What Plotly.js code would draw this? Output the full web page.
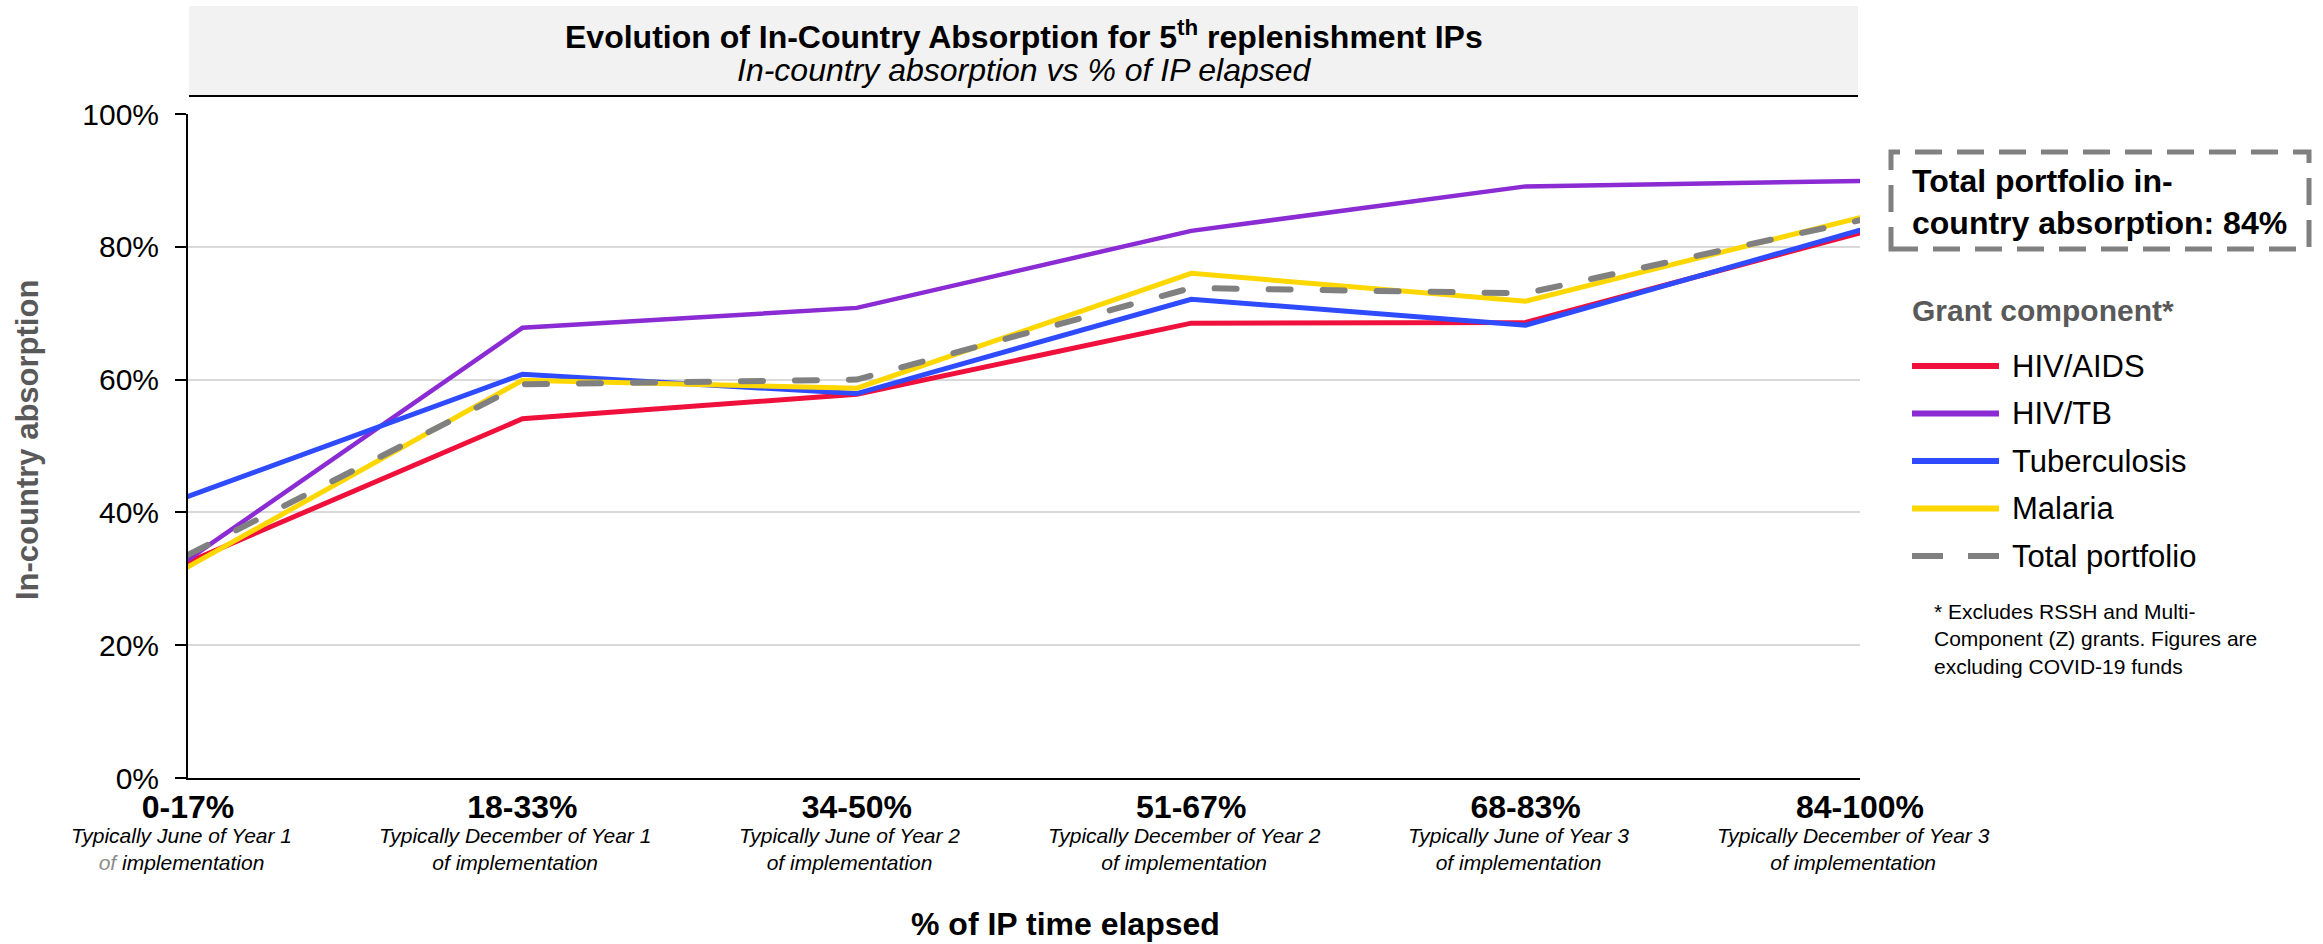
<!DOCTYPE html>
<html>
<head>
<meta charset="utf-8">
<script src="https://cdn.plot.ly/plotly-3.0.1.min.js"></script>
<style>
  html, body { margin: 0; padding: 0; background: #ffffff; }
  #chart { width: 2323px; height: 944px; }
  .scatterlayer .js-line { stroke-linecap: round; }
</style>
</head>
<body>
<div id="chart"></div>
<script>
// ---- Data ----
const categories = ['0-17%', '18-33%', '34-50%', '51-67%', '68-83%', '84-100%'];
const subLabels = [
  'Typically June of Year 1<br><span style="color:#8c8c8c">of</span> implementation',
  'Typically December of Year 1<br>of implementation',
  'Typically June of Year 2<br>of implementation',
  'Typically December of Year 2<br>of implementation',
  'Typically June of Year 3<br>of implementation',
  'Typically December of Year 3<br>of implementation'
];
const hivAids      = [32.5, 54.1, 57.8, 68.5, 68.6, 82.1];
const hivTb        = [32.9, 67.8, 70.8, 82.4, 89.1, 89.9];
const tuberculosis = [42.4, 60.8, 57.9, 72.1, 68.2, 82.5];
const malaria      = [31.8, 59.9, 58.7, 76.0, 71.8, 84.4];
const totalPortf   = [33.6, 59.3, 60.0, 73.8, 73.0, 84.0];
const yTicks       = [0, 20, 40, 60, 80, 100];
const yTickLabels  = ['0%', '20%', '40%', '60%', '80%', '100%'];

const seriesNames  = ['HIV/AIDS', 'HIV/TB', 'Tuberculosis', 'Malaria', 'Total portfolio'];
const seriesValues = [hivAids, hivTb, tuberculosis, malaria, totalPortf];
const seriesColors = ['#F0103C', '#8B2BD3', '#2F4BFF', '#FFD700', '#808080'];
const seriesWidths = [5, 4.5, 5, 5, 6];
const seriesDash   = ['solid', 'solid', 'solid', 'solid', '22px,32px'];

// ---- Layout geometry (pixels) ----
const W = 2323, H = 944;
const L = 188, R = 1860, T = 114, B = 778;
const px = x => (x - L) / (R - L);
const py = y => (B - y) / (B - T);
const FONT = 'Arial, "Liberation Sans", sans-serif';

const traces = seriesNames.map((n, i) => ({
  type: 'scatter',
  mode: 'lines',
  name: n,
  x: categories,
  y: seriesValues[i],
  line: { color: seriesColors[i], width: seriesWidths[i], dash: seriesDash[i] },
  hoverinfo: 'x+y+name',
  showlegend: false,
  cliponaxis: false
}));

const shapes = [
  // title banner
  { type: 'rect', xref: 'paper', yref: 'paper', x0: px(189), x1: px(1858), y0: py(95), y1: py(6),
    fillcolor: '#F2F2F2', line: { width: 0 }, layer: 'below' },
  { type: 'line', xref: 'paper', yref: 'paper', x0: px(189), x1: px(1858), y0: py(96), y1: py(96),
    line: { color: '#000000', width: 2 } },
  // dashed callout box
  { type: 'rect', xref: 'paper', yref: 'paper', x0: px(1891), x1: px(2309), y0: py(249), y1: py(152),
    fillcolor: 'rgba(0,0,0,0)', line: { color: '#808080', width: 5, dash: '27px,15px' } }
];

const annotations = [
  { xref: 'paper', yref: 'paper', x: 0.5, y: py(35), xanchor: 'center', yanchor: 'middle',
    text: 'Evolution of In-Country Absorption for 5<sup>th</sup> replenishment IPs', showarrow: false,
    font: { family: FONT, size: 32, color: '#000000', weight: 'bold' } },
  { xref: 'paper', yref: 'paper', x: 0.5, y: py(70), xanchor: 'center', yanchor: 'middle',
    text: '<i>In-country absorption vs % of IP elapsed</i>', showarrow: false,
    font: { family: FONT, size: 32, color: '#000000' } },
  // axis titles
  { xref: 'paper', yref: 'paper', x: px(1065), y: py(924), xanchor: 'center', yanchor: 'middle',
    text: '% of IP time elapsed', showarrow: false,
    font: { family: FONT, size: 32, color: '#000000', weight: 'bold' } },
  { xref: 'paper', yref: 'paper', x: px(27), y: py(440), xanchor: 'center', yanchor: 'middle',
    text: 'In-country absorption', textangle: -90, showarrow: false,
    font: { family: FONT, size: 31, color: '#595959', weight: 'bold' } },
  // callout text
  { xref: 'paper', yref: 'paper', x: px(1910), y: py(202), xanchor: 'left', yanchor: 'middle', align: 'left',
    text: 'Total portfolio in-<br>country absorption: 84%', showarrow: false,
    font: { family: FONT, size: 32, color: '#000000', weight: 'bold' } },
  // legend title
  { xref: 'paper', yref: 'paper', x: px(1910), y: py(310), xanchor: 'left', yanchor: 'middle',
    text: 'Grant component*', showarrow: false,
    font: { family: FONT, size: 30, color: '#595959', weight: 'bold' } },
  // footnote
  { xref: 'paper', yref: 'paper', x: px(1932), y: py(639), xanchor: 'left', yanchor: 'middle', align: 'left',
    text: '* Excludes RSSH and Multi-<br>Component (Z) grants. Figures are<br>excluding COVID-19 funds', showarrow: false,
    font: { family: FONT, size: 21, color: '#000000' } }
];

// italic sub-labels under each category
categories.forEach((c, i) => {
  annotations.push({
    xref: 'x', yref: 'paper', x: c, y: py(849), xanchor: 'center', yanchor: 'middle', align: 'center',
    xshift: -7, text: '<i>' + subLabels[i] + '</i>', showarrow: false,
    font: { family: FONT, size: 21, color: '#000000' }
  });
});

// legend (manual, built from series arrays)
const legendY0 = 366, legendStep = 47.5;
seriesNames.forEach((n, i) => {
  const yy = legendY0 + i * legendStep;
  shapes.push({
    type: 'line', xref: 'paper', yref: 'paper', x0: px(1912), x1: px(1999), y0: py(yy), y1: py(yy),
    line: { color: seriesColors[i], width: 6, dash: i === 4 ? '31px,25px' : 'solid' }
  });
  annotations.push({
    xref: 'paper', yref: 'paper', x: px(2010), y: py(yy), xanchor: 'left', yanchor: 'middle',
    text: n, showarrow: false, font: { family: FONT, size: 31, color: '#000000' }
  });
});

const layout = {
  width: W, height: H,
  margin: { l: L, r: W - R, t: T, b: H - B, pad: 0 },
  paper_bgcolor: '#ffffff', plot_bgcolor: '#ffffff',
  font: { family: FONT, color: '#000000' },
  showlegend: false,
  xaxis: {
    type: 'category', range: [0, categories.length - 1], categoryorder: 'array', categoryarray: categories,
    showline: true, linecolor: '#000000', linewidth: 2, showgrid: false, zeroline: false,
    ticks: '', tickfont: { family: FONT, size: 32, color: '#000000', weight: 'bold' },
    automargin: false, fixedrange: true
  },
  yaxis: {
    range: [0, 100], tickmode: 'array', tickvals: yTicks, ticktext: yTickLabels,
    showline: true, linecolor: '#000000', linewidth: 2,
    ticks: 'outside', ticklen: 11, tickwidth: 2, tickcolor: '#000000', ticklabelstandoff: 10,
    showgrid: true, gridcolor: '#D9D9D9', gridwidth: 1.5, zeroline: false,
    tickfont: { family: FONT, size: 30, color: '#000000' },
    automargin: false, fixedrange: true
  },
  shapes: shapes,
  annotations: annotations
};

Plotly.newPlot('chart', traces, layout, { displayModeBar: false, staticPlot: false });
</script>
</body>
</html>
